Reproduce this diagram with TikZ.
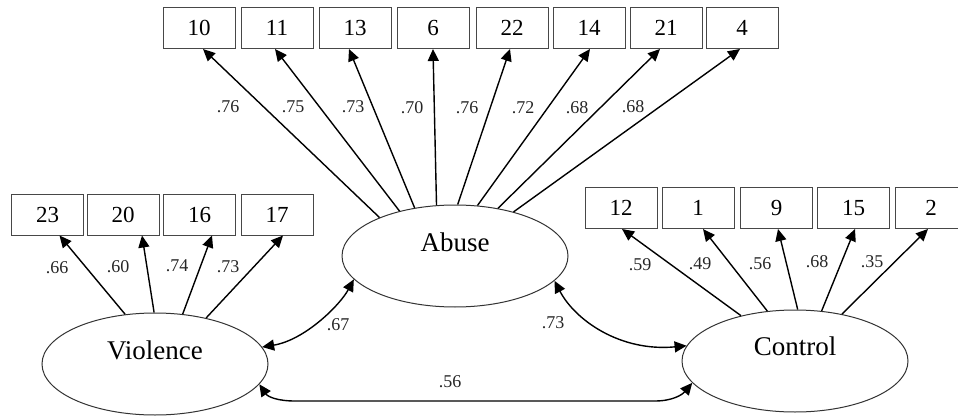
\documentclass[tikz,border=0pt]{standalone}
\usepackage{fontspec}
\setmainfont{Liberation Serif}
\usetikzlibrary{arrows.meta,shapes.geometric}
\begin{document}
\begin{tikzpicture}[x=1pt,y=-1pt,
  obs/.style={draw=black!72,line width=1pt,minimum width=72pt,minimum height=41pt,inner sep=0pt,font=\fontsize{23}{26}\selectfont},
  latent/.style={ellipse,draw=black!80,line width=1pt,minimum width=226pt,minimum height=102pt,inner sep=0pt},
  lattext/.style={font=\fontsize{27}{30}\selectfont,inner sep=0pt},
  coef/.style={font=\fontsize{18}{20}\selectfont,inner sep=0pt,text=black!85},
  load/.style={-{Triangle[length=12pt,width=11pt]},line width=1.4pt},
  cov/.style={{Triangle[length=12pt,width=11pt]}-{Triangle[length=12pt,width=11pt]},line width=1.4pt},
]
\clip (0,0) rectangle (958,417);
\fill[white] (0,0) rectangle (958,417);

% latent variables
\node[latent] (abuse) at (455,256) {};
\node[latent] (vio) at (155,364) {};
\node[latent] (ctl) at (795,361) {};
\node[lattext] (abusetxt) at ([yshift=14pt]abuse.center) {Abuse};
\node[lattext] (viotxt) at ([yshift=14pt]vio.center) {Violence};
\node[lattext] (ctltxt) at ([yshift=15pt]ctl.center) {Control};

% Abuse indicators
\node[obs] (a10) at (199,28) {10};
\node[obs] (a11) at (277,28) {11};
\node[obs] (a13) at (355,28) {13};
\node[obs] (a6)  at (433,28) {6};
\node[obs] (a22) at (512,28) {22};
\node[obs] (a14) at (589,28) {14};
\node[obs] (a21) at (666,28) {21};
\node[obs] (a4)  at (742,28) {4};

% Violence indicators
\node[obs] (v23) at (47.5,214.5) {23};
\node[obs] (v20) at (123,214.5) {20};
\node[obs] (v16) at (199.5,214.5) {16};
\node[obs] (v17) at (277,214.5) {17};

% Control indicators
\node[obs] (c12) at (621,208) {12};
\node[obs] (c1)  at (698,208) {1};
\node[obs] (c9)  at (776.5,208) {9};
\node[obs] (c15) at (853.5,208) {15};
\node[obs] (c2)  at (931,208) {2};

% loadings Abuse
\draw[load] (abuse.153) -- ([xshift=4pt]a10.south);
\draw[load] (abuse.141) -- ([xshift=-2pt]a11.south);
\draw[load] (abuse.130) -- ([xshift=-6pt]a13.south);
\draw[load] (abuse.110) -- (a6.south);
\draw[load] (abuse.87)  -- ([xshift=-2pt]a22.south);
\draw[load] (abuse.66)  -- ([xshift=1pt]a14.south);
\draw[load] (abuse.48)  -- ([xshift=-6pt]a21.south);
\draw[load] (abuse.37)  -- ([xshift=-2pt]a4.south);

% loadings Violence
\draw[load] (vio.121) -- ([xshift=12pt]v23.south);
\draw[load] (vio.91)  -- ([xshift=19pt]v20.south);
\draw[load] (vio.61)  -- ([xshift=12.5pt]v16.south);
\draw[load] (vio.42)  -- ([xshift=6pt]v17.south);

% loadings Control
\draw[load] (ctl.140) -- ([xshift=1pt]c12.south);
\draw[load] (ctl.119) -- ([xshift=5pt]c1.south);
\draw[load] (ctl.87)  -- ([xshift=1.5pt]c9.south);
\draw[load] (ctl.62)  -- ([xshift=1.5pt]c15.south);
\draw[load] (ctl.45)  -- ([xshift=-3pt]c2.south);

% covariances
\draw[cov] (vio.9) .. controls (305,340) and (340,305) .. (abuse.193);
\draw[cov] (abuse.346) .. controls (575,320) and (620,352) .. (ctl.172);
\coordinate (bl) at (295,401);
\coordinate (br) at (655,401);
\draw[cov] (vio.-11) .. controls (268,397) and (278,401) .. (bl) -- (br) .. controls (672,401) and (682,395) .. (ctl.192);

% coefficient labels
\node[coef] (l10) at (228,107) {.76};
\node[coef] (l11) at (293,107) {.75};
\node[coef] (l13) at (353,107) {.73};
\node[coef] (l6)  at (412,108) {.70};
\node[coef] (l22) at (467,108) {.76};
\node[coef] (l14) at (523,108) {.72};
\node[coef] (l21) at (577,108) {.68};
\node[coef] (l4)  at (633,107) {.68};

\node[coef] (l23) at (57,268) {.66};
\node[coef] (l20) at (118,267) {.60};
\node[coef] (l16) at (177,266) {.74};
\node[coef] (l17) at (228,267) {.73};

\node[coef] (l12) at (640,265) {.59};
\node[coef] (l1)  at (700,264) {.49};
\node[coef] (l9)  at (760,264) {.56};
\node[coef] (l15) at (817,262) {.68};
\node[coef] (l2)  at (872,262) {.35};

\node[coef] (lva) at (338,325) {.67};
\node[coef] (lac) at (553,323) {.73};
\node[coef] (lvc) at (450,382) {.56};
\end{tikzpicture}
\end{document}
